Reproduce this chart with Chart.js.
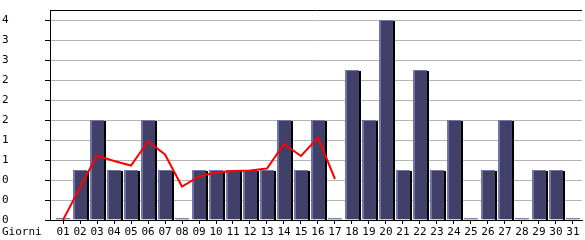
<!DOCTYPE html>
<html>
<head>
<meta charset="utf-8">
<title>Visite per giorno</title>
<script src="https://cdn.jsdelivr.net/npm/chart.js@4.4.1/dist/chart.umd.min.js"></script>
<style>
  html, body { margin: 0; padding: 0; background: #fff; }
  #wrap { width: 585px; height: 240px; }
</style>
</head>
<body>
<div id="wrap"><canvas id="grafico"></canvas></div>
<script>
// dati
const giorni = ['01','02','03','04','05','06','07','08','09','10','11','12','13','14','15','16',
                '17','18','19','20','21','22','23','24','25','26','27','28','29','30','31'];
const visite = [0,1,2,1,1,2,1,0,1,1,1,1,1,2,1,2,0,3,2,4,1,3,1,2,0,1,2,0,1,1,0];
const media = [0,0.65,1.29,1.18,1.09,1.57,1.31,0.67,0.87,0.95,0.98,0.99,1.03,1.52,1.28,1.65,0.82];
const tacche = [0,0.4,0.8,1.2,1.6,2,2.4,2.8,3.2,3.6,4];

const font = { family: 'DejaVu Sans Mono', size: 11 };

// ombra nera a destra delle barre
const ombra = {
  id: 'ombra',
  afterDatasetDraw(chart, args) {
    if (args.index !== 0) return;
    const c = chart.ctx;
    c.save();
    c.fillStyle = '#000';
    args.meta.data.forEach((el, i) => {
      if (visite[i] <= 0) return;
      const p = el.getProps(['x', 'y', 'base', 'width'], true);
      c.fillRect(Math.round(p.x + p.width / 2), Math.round(p.y) + 1, 2, Math.round(p.base - p.y) - 1);
    });
    c.restore();
  }
};

// scritta "Giorni" a sinistra delle etichette dei giorni
const etichetta = {
  id: 'etichetta',
  afterDraw(chart) {
    const c = chart.ctx;
    const sx = chart.scales.x;
    c.save();
    c.font = '11px "DejaVu Sans Mono"';
    c.fillStyle = '#000';
    c.textBaseline = 'middle';
    c.textAlign = 'left';
    c.fillText('Giorni', 2, sx.top + 4 + 2 + 6.5);
    c.restore();
  }
};

new Chart(document.getElementById('grafico'), {
  data: {
    datasets: [{
      type: 'bar',
      data: visite.map((v, i) => ({ x: i, y: v })),
      backgroundColor: '#404068',
      borderColor: '#7474ac',
      borderWidth: { left: 2, top: 1, right: 0, bottom: 0 },
      borderSkipped: false,
      minBarLength: 2,
      barPercentage: 0.9,
      categoryPercentage: 0.915,
      order: 1
    }, {
      type: 'line',
      data: media.map((v, i) => ({ x: i, y: v })),
      borderColor: '#ff0000',
      borderWidth: 2,
      pointRadius: 0,
      tension: 0,
      fill: false,
      order: 0
    }]
  },
  options: {
    responsive: true,
    maintainAspectRatio: false,
    animation: false,
    devicePixelRatio: 1,
    layout: { padding: { left: 2, right: 3, top: 10, bottom: 0 } },
    plugins: { legend: { display: false }, tooltip: { enabled: false } },
    scales: {
      x: {
        type: 'linear',
        offset: false,
        min: -0.765,
        max: 30.53,
        afterFit: s => { s.height = 20; },
        afterBuildTicks: s => { s.ticks = giorni.map((g, i) => ({ value: i })); },
        ticks: {
          callback: (v, i) => giorni[i],
          autoSkip: false,
          maxRotation: 0,
          padding: 2,
          color: '#000',
          font: font
        },
        grid: { offset: false, drawOnChartArea: false, drawTicks: true, tickLength: 4, tickColor: '#000' },
        border: { color: '#000', width: 1 }
      },
      y: {
        min: 0,
        max: 4.2,
        afterFit: s => { s.width = 48; },
        afterBuildTicks: s => { s.ticks = tacche.concat([4.2]).map(v => ({ value: v })); },
        ticks: {
          callback: v => v > 4.1 ? '' : String(Math.floor(v)),
          crossAlign: 'far',
          color: '#000',
          font: font
        },
        grid: {
          color: ctx => ctx.tick && ctx.tick.value > 4.1 ? '#000' : '#b4b4b4',
          tickColor: ctx => ctx.tick && ctx.tick.value > 4.1 ? 'rgba(0,0,0,0)' : '#000',
          tickLength: 5
        },
        border: { color: '#000', width: 1 }
      }
    }
  },
  plugins: [ombra, etichetta]
});
</script>
</body>
</html>
